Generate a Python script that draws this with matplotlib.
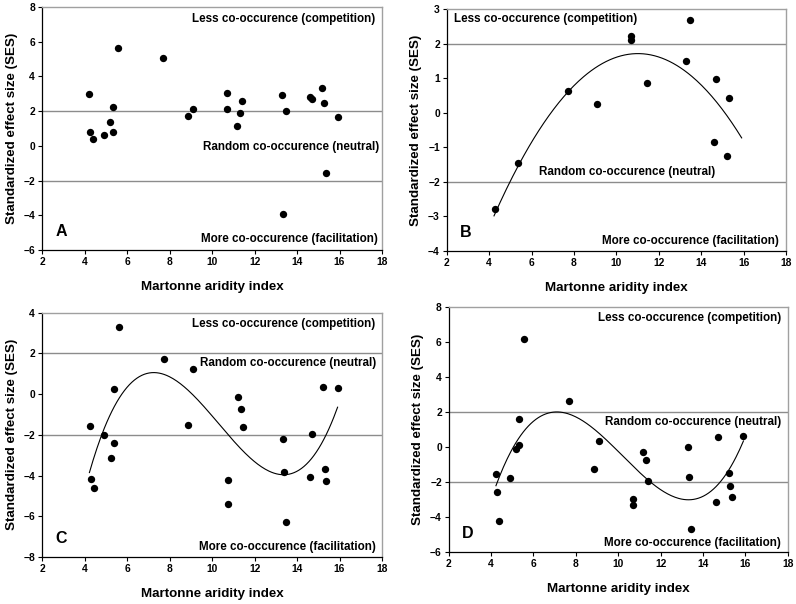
import numpy as np
import matplotlib
matplotlib.use("Agg")
import matplotlib.pyplot as plt

plt.rcParams['font.family'] = ['Liberation Sans', 'DejaVu Sans']

# Panel A
xa = [4.23, 4.27, 4.40, 4.90, 5.22, 5.34, 5.34, 5.59, 7.71, 8.85, 9.09, 10.69, 10.72,
      11.19, 11.33, 11.43, 13.29, 13.36, 13.47, 14.60, 14.71, 15.19, 15.29, 15.36, 15.91]
ya = [2.99, 0.80, 0.41, 0.63, 1.39, 2.22, 0.82, 5.66, 5.04, 1.70, 2.14, 3.06, 2.14,
      1.16, 1.91, 2.58, 2.95, -3.93, 2.03, 2.81, 2.72, 3.35, 2.45, -1.58, 1.64]

# Panel B
xb = [4.28, 5.35, 7.74, 9.09, 10.68, 10.71, 11.43, 13.29, 13.46, 14.59, 14.70, 15.20, 15.30]
yb = [-2.77, -1.46, 0.63, 0.27, 2.24, 2.11, 0.86, 1.50, 2.70, -0.83, 0.99, -1.24, 0.43]

# Panel C
xc = [4.26, 4.31, 4.43, 4.93, 5.25, 5.37, 5.37, 5.61, 7.74, 8.89, 9.12, 10.74, 10.74,
      11.22, 11.36, 11.46, 13.33, 13.39, 13.48, 14.63, 14.72, 15.22, 15.33, 15.38, 15.93]
yc = [-1.55, -4.19, -4.63, -2.02, -3.12, -2.42, 0.25, 3.28, 1.72, -1.50, 1.25, -4.22, -5.41,
      -0.13, -0.75, -1.62, -2.19, -3.83, -6.27, -4.07, -1.96, 0.33, -3.66, -4.28, 0.32]

# Panel D
xd = [4.22, 4.27, 4.37, 4.88, 5.19, 5.32, 5.32, 5.55, 7.69, 8.86, 9.08, 10.68, 10.71,
      11.17, 11.33, 11.42, 13.31, 13.34, 13.45, 14.61, 14.69, 15.21, 15.29, 15.35, 15.89]
yd = [-1.53, -2.55, -4.23, -1.77, -0.10, 1.62, 0.15, 6.17, 2.65, -1.26, 0.38, -2.94, -3.28,
      -0.29, -0.73, -1.91, 0.02, -1.68, -4.69, -3.13, 0.59, -1.47, -2.23, -2.82, 0.66]

x_ticks = [2, 4, 6, 8, 10, 12, 14, 16, 18]
curve_range = (4.23, 15.91)

panels = [
    dict(x=xa, y=ya, deg=None, ylim=(-6, 8), yticks=[-6, -4, -2, 0, 2, 4, 6, 8], letter='A',
         rect=[0.0528, 0.5861, 0.4271, 0.4023],
         less=(0.981, 0.951, 'right'), rand=(0.991, 0.425, 'right'), more=(0.987, 0.044)),
    dict(x=xb, y=yb, deg=2, ylim=(-4, 3), yticks=[-4, -3, -2, -1, 0, 1, 2, 3], letter='B',
         rect=[0.5612, 0.5844, 0.4262, 0.4002],
         less=(0.0215, 0.96, 'left'), rand=(0.533, 0.326, 'center'), more=(0.979, 0.043)),
    dict(x=xc, y=yc, deg=3, ylim=(-8, 4), yticks=[-8, -6, -4, -2, 0, 2, 4], letter='C',
         rect=[0.0528, 0.0778, 0.4271, 0.4045],
         less=(0.981, 0.954, 'right'), rand=(0.983, 0.793, 'right'), more=(0.983, 0.040)),
    dict(x=xd, y=yd, deg=3, ylim=(-6, 8), yticks=[-6, -4, -2, 0, 2, 4, 6, 8], letter='D',
         rect=[0.5637, 0.0856, 0.4259, 0.4056],
         less=(0.982, 0.955, 'right'), rand=(0.980, 0.532, 'right'), more=(0.980, 0.039)),
]

fig = plt.figure(figsize=(7.96, 6.04), dpi=100)
fig.patch.set_facecolor('white')

for p in panels:
    ax = fig.add_axes(p['rect'])
    ax.set_xlim(2, 18)
    ax.set_ylim(*p['ylim'])
    ax.axhline(2, color='#8c8c8c', lw=1.0, zorder=1)
    ax.axhline(-2, color='#8c8c8c', lw=1.0, zorder=1)
    ax.scatter(p['x'], p['y'], s=28, color='black', zorder=3, linewidths=0)
    if p['deg']:
        coef = np.polyfit(p['x'], p['y'], p['deg'])
        xx = np.linspace(curve_range[0], curve_range[1], 200)
        ax.plot(xx, np.polyval(coef, xx), color='black', lw=0.8, zorder=2)
    ax.set_xticks(x_ticks)
    ax.set_yticks(p['yticks'])
    for lbl in ax.get_xticklabels() + ax.get_yticklabels():
        lbl.set_fontweight('bold')
        lbl.set_fontsize(7.4)
    ax.tick_params(direction='out', length=3, width=0.8, pad=2)
    ax.tick_params(top=False, right=False)
    for s in ['left', 'bottom']:
        ax.spines[s].set_color('black')
        ax.spines[s].set_linewidth(0.9)
    for s in ['top', 'right']:
        ax.spines[s].set_color('#a0a0a0')
        ax.spines[s].set_linewidth(1.0)
    ax.set_xlabel('Martonne aridity index', fontsize=9.6, fontweight='bold', labelpad=10)
    ax.set_ylabel('Standardized effect size (SES)', fontsize=9.6, fontweight='bold', labelpad=4)
    lx, ly, lha = p['less']
    ax.text(lx, ly, 'Less co-occurence (competition)', transform=ax.transAxes,
            ha=lha, va='center', fontsize=8.4, fontweight='bold')
    rx, ry, rha = p['rand']
    ax.text(rx, ry, 'Random co-occurence (neutral)', transform=ax.transAxes,
            ha=rha, va='center', fontsize=8.4, fontweight='bold')
    mx, my = p['more']
    ax.text(mx, my, 'More co-occurence (facilitation)', transform=ax.transAxes,
            ha='right', va='center', fontsize=8.4, fontweight='bold')
    ax.text(0.04, 0.075, p['letter'], transform=ax.transAxes, ha='left', va='center',
            fontsize=11.5, fontweight='bold')

fig.savefig('out.png', dpi=100, facecolor='white')
